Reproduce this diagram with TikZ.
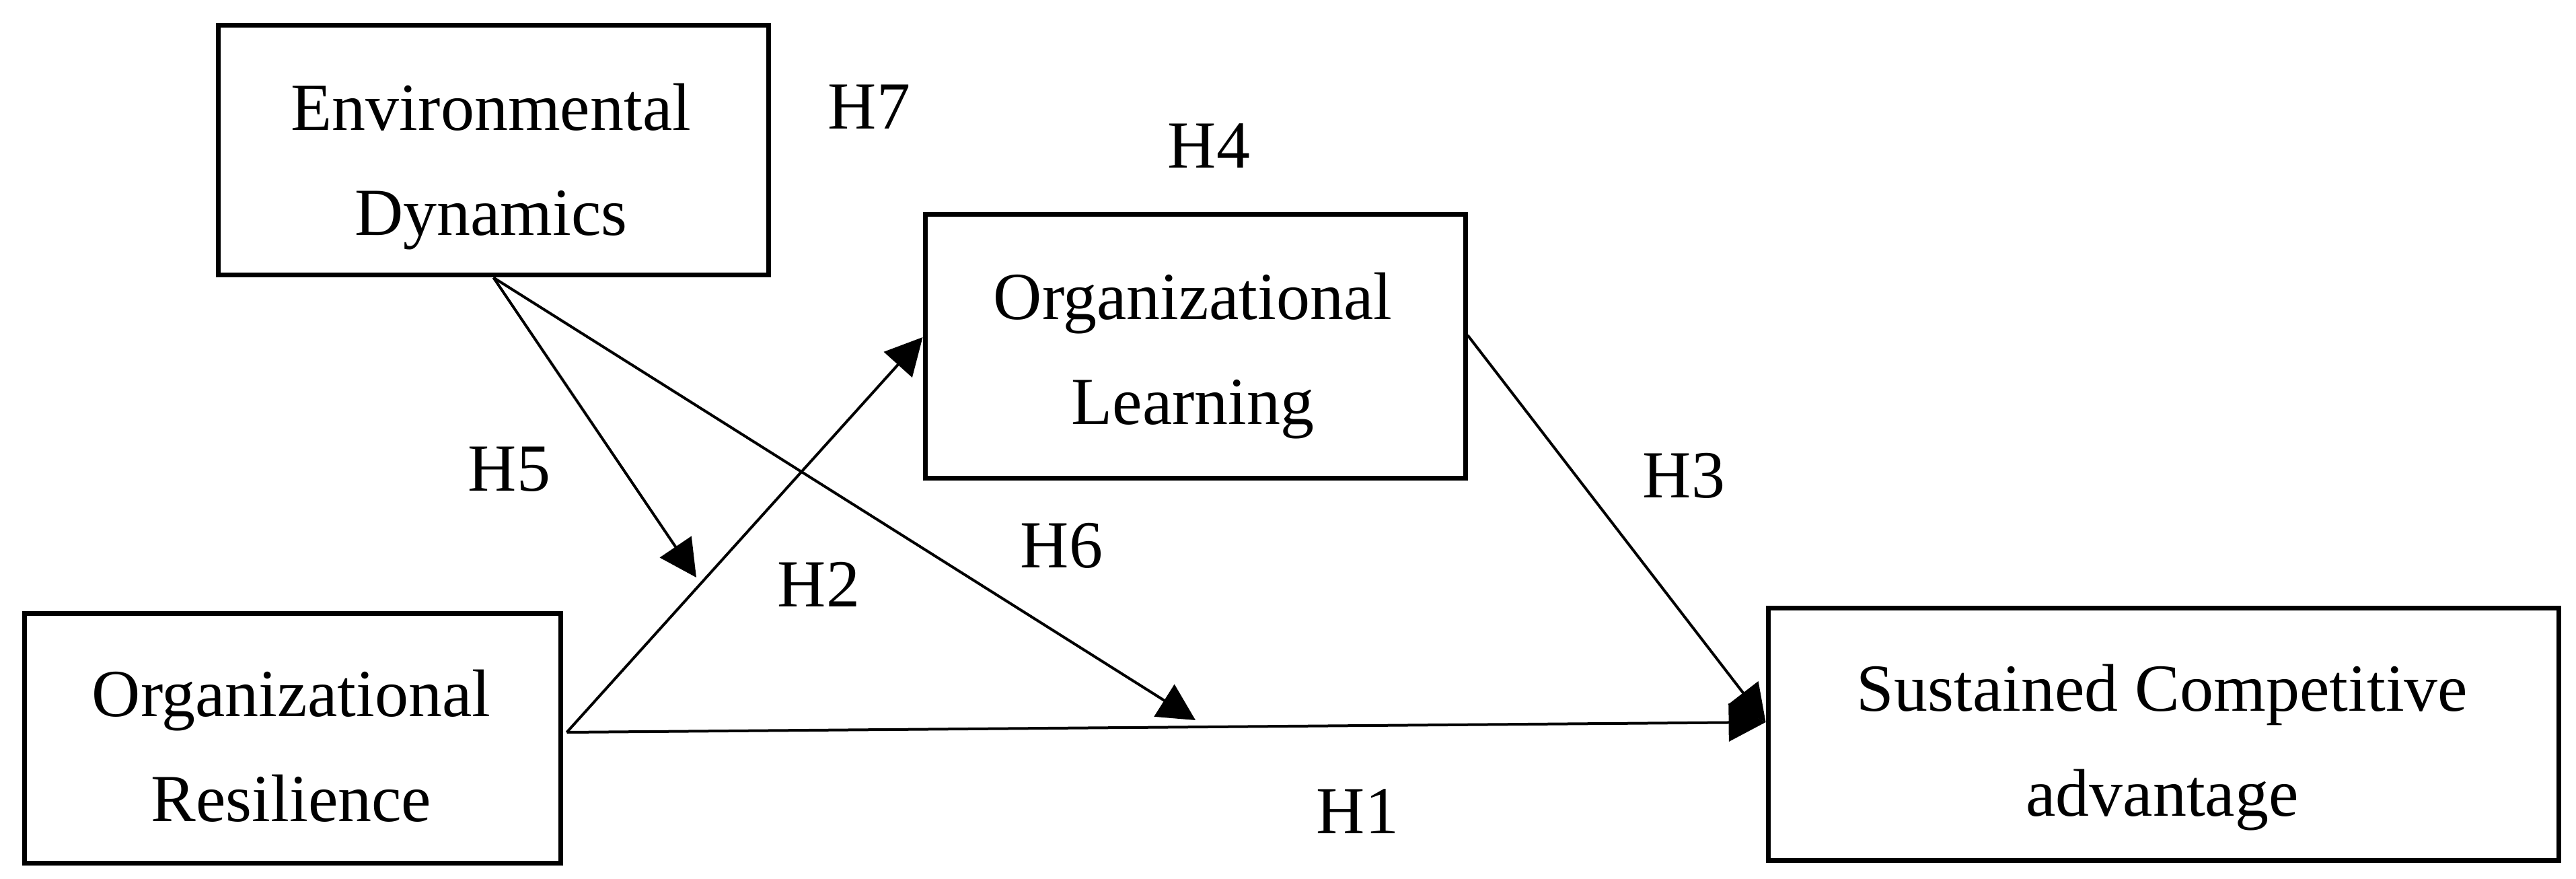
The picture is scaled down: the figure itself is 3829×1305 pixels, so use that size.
\documentclass[tikz,border=0pt]{standalone}
\usepackage{fontspec}
\setmainfont{Liberation Serif}
\usetikzlibrary{arrows.meta}
\begin{document}
\begin{tikzpicture}[x=0.1pt,y=-0.1pt,
  box/.style={draw,line width=0.7pt,rectangle,inner sep=0pt,minimum width=#1},
  boxtext/.style={anchor=north,inner sep=0pt,align=center,font=\fontsize{10}{15.6}\selectfont},
  hlab/.style={anchor=base,inner sep=0pt,font=\fontsize{10}{12}\selectfont},
  conn/.style={line width=0.4pt,-{Triangle[length=5.5pt,width=5.6pt]}}]
\useasboundingbox (0,0) rectangle (3829,1305);
% boxes
\node[box=81.9pt,minimum height=37.2pt] (ed) at (733.5,223) {};
\node[box=80.3pt,minimum height=39.2pt] (ol) at (1776.5,514) {};
\node[box=79.8pt,minimum height=37.1pt] (or) at (435,1096.5) {};
\node[box=117.5pt,minimum height=37.5pt] (sca) at (3215.5,1090.5) {};
% box texts
\node[boxtext] (edt) at (730,122) {Environmental\\Dynamics};
\node[boxtext] (olt) at (1773,403) {Organizational\\Learning};
\node[boxtext] (ort) at (433,993) {Organizational\\Resilience};
\node[boxtext] (scat) at (3214,985) {Sustained Competitive\\advantage};
% connector points
\coordinate (orp) at ([xshift=0.5pt,yshift=0.85pt]or.east);
\coordinate (scain) at ([yshift=1.75pt]sca.west);
\coordinate (olin) at ([yshift=1.3pt]ol.west);
\coordinate (olout) at ([yshift=1.6pt]ol.east);
\coordinate (h5tip) at (1035,858);
\coordinate (h6tip) at (1777,1070);
% connectors
\draw[conn] (orp) -- (scain);
\draw[conn] (orp) -- (olin);
\draw[conn] (olout) -- (scain);
\draw[conn] (ed.south) -- (h5tip);
\draw[conn] (ed.south) -- (h6tip);
% labels
\node[hlab] (h7) at (1292,191) {H7};
\node[hlab] (h4) at (1797,249) {H4};
\node[hlab] (h5) at (757,729) {H5};
\node[hlab] (h2) at (1217,901) {H2};
\node[hlab] (h6) at (1578,843) {H6};
\node[hlab] (h3) at (2503,739) {H3};
\node[hlab] (h1) at (2018,1238) {H1};
\end{tikzpicture}
\end{document}
